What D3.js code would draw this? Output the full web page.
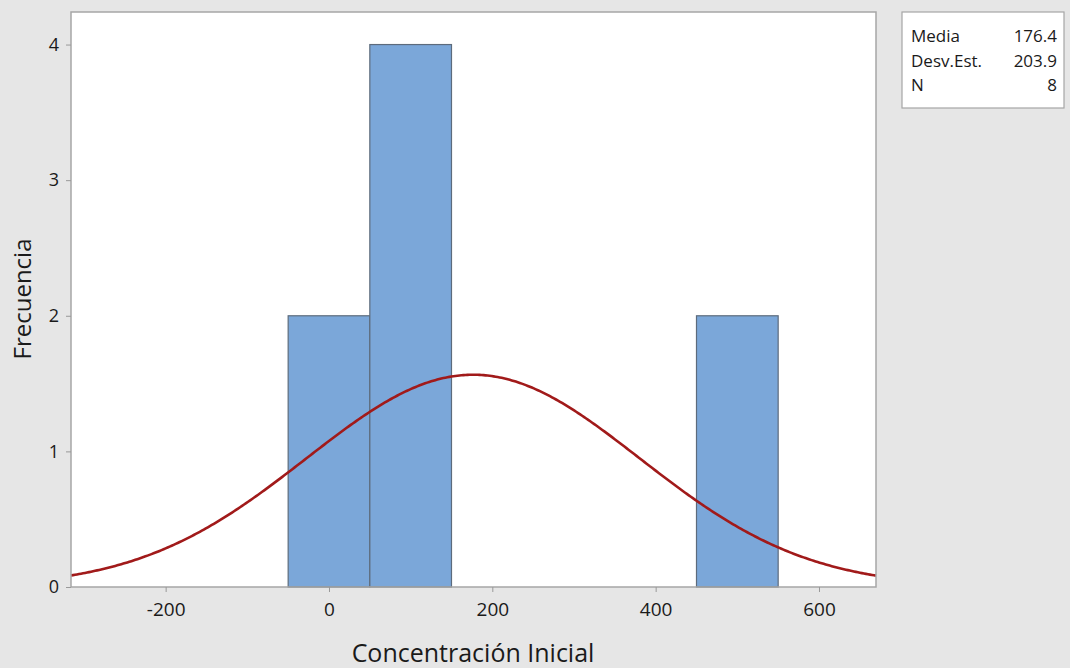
<!DOCTYPE html>
<html>
<head>
<meta charset="utf-8">
<script src="https://cdn.jsdelivr.net/npm/d3@7"></script>
<style>
  html, body { margin: 0; padding: 0; background: #e6e6e6; }
  svg { display: block; }
</style>
</head>
<body>
<svg id="chart" width="1070" height="668"></svg>
<script>
// Data
const binStarts = [-50, 50, 450];
const binEnds = [50, 150, 550];
const counts = [2, 4, 2];
const statLabels = ["Media", "Desv.Est.", "N"];
const statValues = ["176.4", "203.9", "8"];
const mean = 176.4;
const sd = 203.9;
const n = 8;
const binWidth = 100;
const xTicks = [-200, 0, 200, 400, 600];
const yTicks = [0, 1, 2, 3, 4];

const svg = d3.select("#chart");
const W = 1070, H = 668;
const plot = { left: 71, right: 876, top: 12, bottom: 587 };
const font = "'Open Sans', 'Noto Sans', sans-serif";
const textCol = "#1a1a1a";

svg.append("rect").attr("width", W).attr("height", H).attr("fill", "#e6e6e6");

const x = d3.scaleLinear().domain([-315.9, 669.8]).range([plot.left, plot.right]);
const y = d3.scaleLinear().domain([0, 4.24]).range([plot.bottom, plot.top]);

// plot background
svg.append("rect")
  .attr("x", plot.left).attr("y", plot.top)
  .attr("width", plot.right - plot.left).attr("height", plot.bottom - plot.top)
  .attr("fill", "#ffffff");

// bars
const bars = binStarts.map((s, i) => ({ s, e: binEnds[i], c: counts[i] }));
svg.append("g").selectAll("rect").data(bars).join("rect")
  .attr("x", d => x(d.s)).attr("y", d => y(d.c))
  .attr("width", d => x(d.e) - x(d.s)).attr("height", d => y(0) - y(d.c))
  .attr("fill", "#7ba7d9").attr("stroke", "#5d6b7c").attr("stroke-width", 1.2);

// fitted normal curve (scaled to counts)
const curvePts = d3.range(0, 401).map(i => {
  const xv = x.domain()[0] + (x.domain()[1] - x.domain()[0]) * i / 400;
  const yv = n * binWidth * Math.exp(-0.5 * ((xv - mean) / sd) ** 2) / (sd * Math.sqrt(2 * Math.PI));
  return [xv, yv];
});
svg.append("path")
  .attr("d", d3.line().x(d => x(d[0])).y(d => y(d[1]))(curvePts))
  .attr("fill", "none").attr("stroke", "#a11a1a").attr("stroke-width", 2.6);

// frame
svg.append("rect")
  .attr("x", plot.left).attr("y", plot.top)
  .attr("width", plot.right - plot.left).attr("height", plot.bottom - plot.top)
  .attr("fill", "none").attr("stroke", "#a6a6a6").attr("stroke-width", 1.5);

// axes
const fmt = d => String(d);
const xAxis = svg.append("g").attr("transform", `translate(0,${plot.bottom})`)
  .call(d3.axisBottom(x).tickValues(xTicks).tickSize(5).tickPadding(11).tickFormat(fmt));
xAxis.select(".domain").remove();
xAxis.selectAll("line").attr("stroke", "#999");
xAxis.selectAll("text").attr("font-family", font).attr("font-size", 19).attr("fill", textCol);

const yAxis = svg.append("g").attr("transform", `translate(${plot.left},0)`)
  .call(d3.axisLeft(y).tickValues(yTicks).tickSize(5).tickPadding(7).tickFormat(fmt));
yAxis.select(".domain").remove();
yAxis.selectAll("line").attr("stroke", "#999");
yAxis.selectAll("text").attr("font-family", font).attr("font-size", 18).attr("fill", textCol);

// axis titles
svg.append("text").attr("x", 473).attr("y", 662).attr("text-anchor", "middle")
  .attr("font-family", font).attr("font-size", 25).attr("fill", textCol)
  .text("Concentración Inicial");
svg.append("text").attr("transform", "translate(31,299) rotate(-90)").attr("text-anchor", "middle")
  .attr("font-family", font).attr("font-size", 24).attr("fill", textCol)
  .text("Frecuencia");

// stats box
svg.append("rect").attr("x", 902).attr("y", 12).attr("width", 162).attr("height", 96)
  .attr("fill", "#ffffff").attr("stroke", "#a6a6a6").attr("stroke-width", 1.2);
const sg = svg.append("g");
statLabels.forEach((lab, i) => {
  sg.append("text").attr("x", 911).attr("y", 42 + i * 24.5)
    .attr("font-family", font).attr("font-size", 17).attr("fill", textCol).text(lab);
  sg.append("text").attr("x", 1057).attr("y", 42 + i * 24.5).attr("text-anchor", "end")
    .attr("font-family", font).attr("font-size", 17).attr("fill", textCol).text(statValues[i]);
});
</script>
</body>
</html>
